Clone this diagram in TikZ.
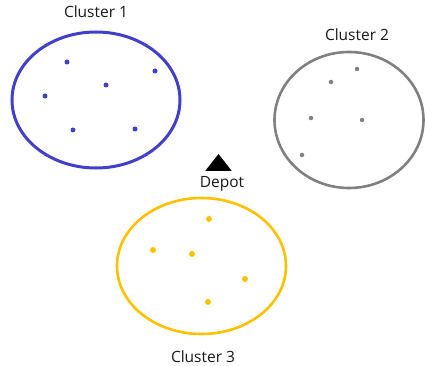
\documentclass[tikz,border=0pt]{standalone}
\usepackage{fontspec}
\setmainfont{Open Sans}
\usetikzlibrary{shapes,shapes.geometric}
\definecolor{clblue}{RGB}{64,64,204}
\definecolor{clgray}{RGB}{128,128,128}
\definecolor{clyellow}{RGB}{255,192,0}
\tikzset{
  cluster/.style = {ellipse, draw, line width=2.6pt, inner sep=0pt},
  pt/.style = {circle, inner sep=0pt, minimum size=5pt},
  lbl/.style = {font=\fontsize{15.5}{18}\selectfont, text=black!90, inner sep=0pt},
  depot/.style = {isosceles triangle, shape border rotate=90, isosceles triangle apex angle=76, fill=black, inner sep=0pt, minimum height=17pt}
}

\begin{document}
\begin{tikzpicture}[x=1pt,y=-1pt]
\useasboundingbox (0,0) rectangle (425,366);
% clusters
\node [cluster, draw=clblue, line width=3pt, minimum width=168pt, minimum height=136pt] (c1) at (96,100) {};
\node [cluster, draw=clgray, minimum width=149pt, minimum height=136pt] (c2) at (349,120) {};
\node [cluster, draw=clyellow, minimum width=169pt, minimum height=136pt] (c3) at (201.5,266) {};
\node [lbl] (l1) at (96,12) {Cluster 1};
\node [lbl] (l2) at (357,35) {Cluster 2};
\node [lbl] (l3) at (203,357) {Cluster 3};
% depot
\node [depot] (dep) at (218.5,164.5) {};
\node [lbl] (dl) at (222,184) {Depot};
% customers
\foreach \x/\y [count=\i] in {67/62,155/71,106/85,45/96,73/130,135/129}
  \node [pt, fill=clblue] (a\i) at (\x,\y) {};
\foreach \x/\y [count=\i] in {357/69,331/82,311/118,362/120,302/155}
  \node [pt, fill=clgray, minimum size=4.5pt] (b\i) at (\x,\y) {};
\foreach \x/\y [count=\i] in {209/219,153/250,192/254,245/279,208/302}
  \node [pt, fill=clyellow, minimum size=6pt] (y\i) at (\x,\y) {};
\end{tikzpicture}
\end{document}
